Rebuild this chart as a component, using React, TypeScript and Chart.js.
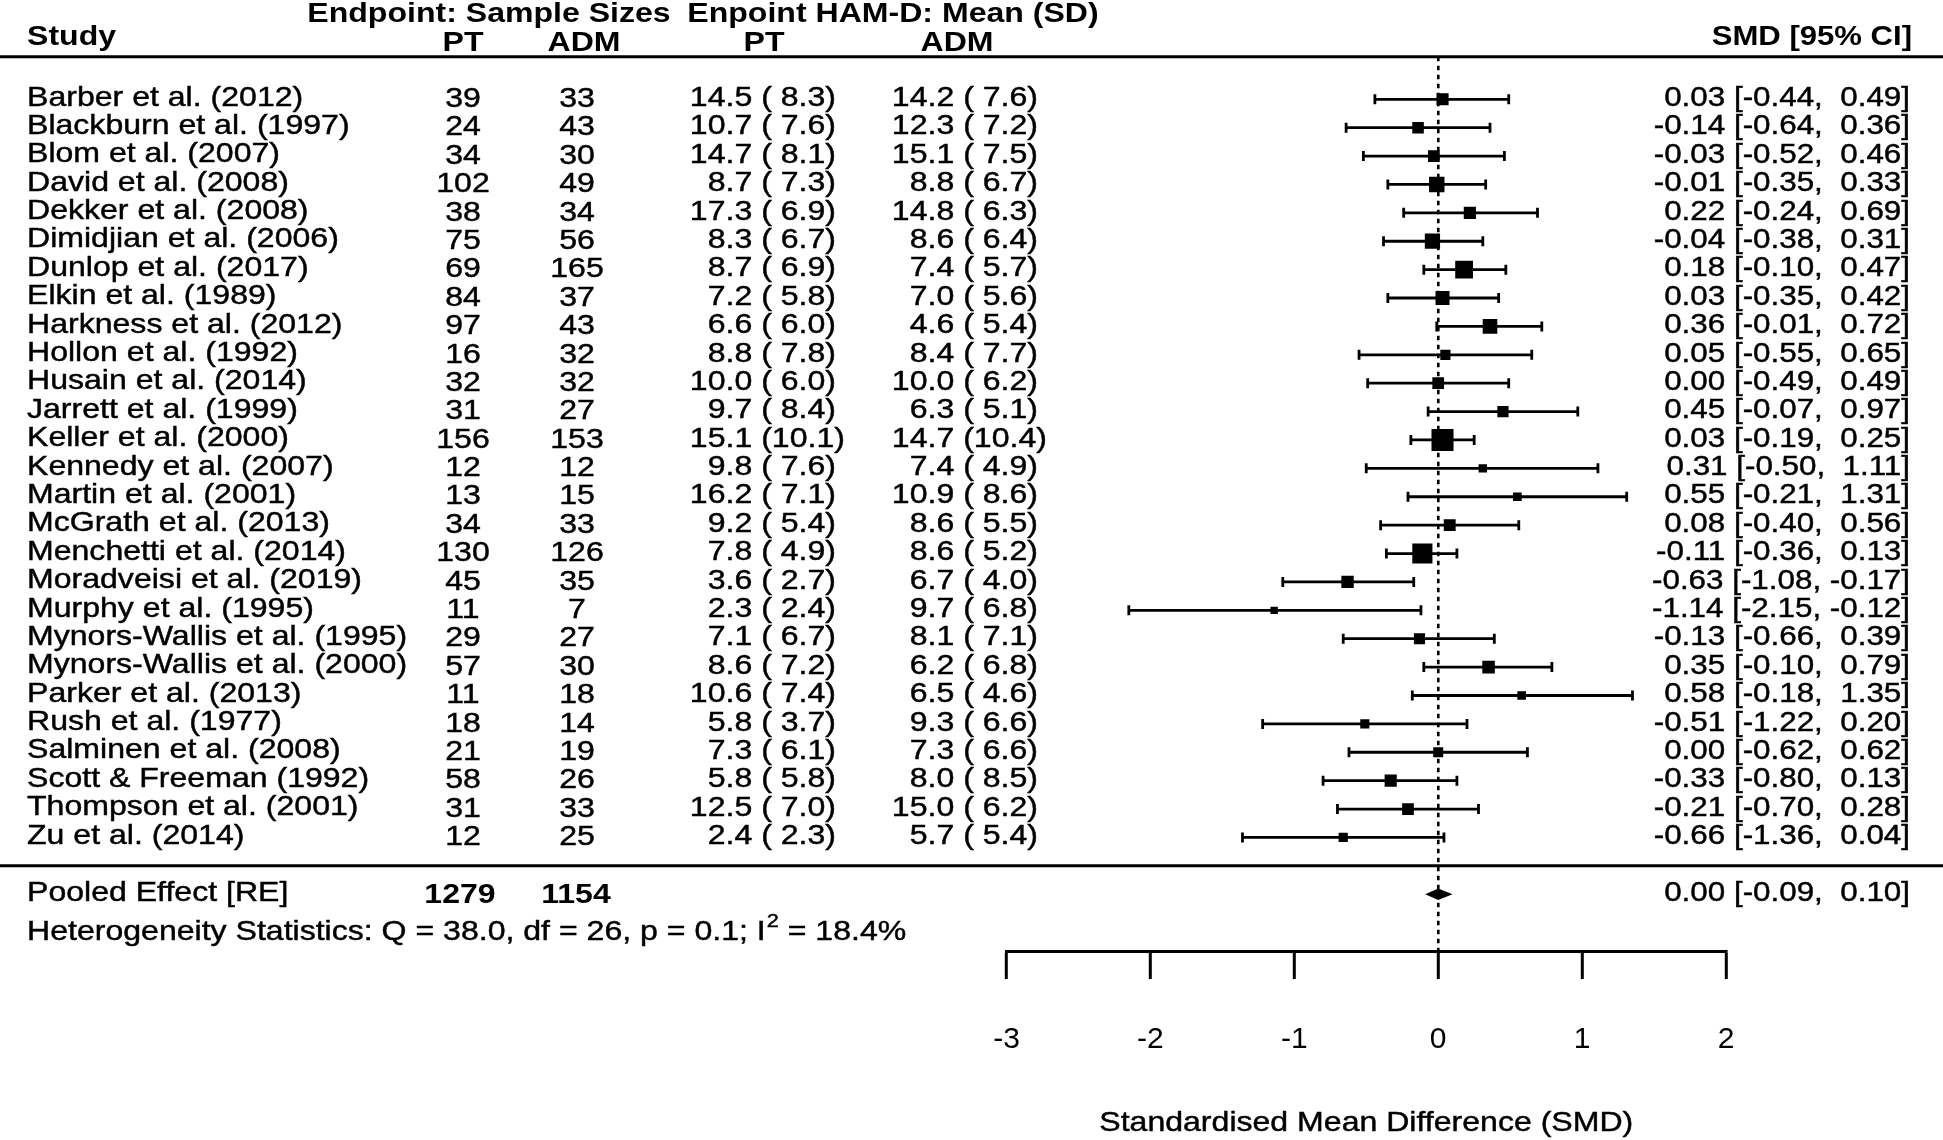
import React, { useEffect, useRef } from 'react';
import { Chart, registerables } from 'chart.js';

Chart.register(...registerables);

// ---------------- data ----------------
const studies = [
  'Barber et al. (2012)', 'Blackburn et al. (1997)', 'Blom et al. (2007)', 'David et al. (2008)',
  'Dekker et al. (2008)', 'Dimidjian et al. (2006)', 'Dunlop et al. (2017)', 'Elkin et al. (1989)',
  'Harkness et al. (2012)', 'Hollon et al. (1992)', 'Husain et al. (2014)', 'Jarrett et al. (1999)',
  'Keller et al. (2000)', 'Kennedy et al. (2007)', 'Martin et al. (2001)', 'McGrath et al. (2013)',
  'Menchetti et al. (2014)', 'Moradveisi et al. (2019)', 'Murphy et al. (1995)',
  'Mynors-Wallis et al. (1995)', 'Mynors-Wallis et al. (2000)', 'Parker et al. (2013)',
  'Rush et al. (1977)', 'Salminen et al. (2008)', 'Scott & Freeman (1992)',
  'Thompson et al. (2001)', 'Zu et al. (2014)',
];
const ptN = [39, 24, 34, 102, 38, 75, 69, 84, 97, 16, 32, 31, 156, 12, 13, 34, 130, 45, 11, 29, 57, 11, 18, 21, 58, 31, 12];
const admN = [33, 43, 30, 49, 34, 56, 165, 37, 43, 32, 32, 27, 153, 12, 15, 33, 126, 35, 7, 27, 30, 18, 14, 19, 26, 33, 25];
const ptMean = [14.5, 10.7, 14.7, 8.7, 17.3, 8.3, 8.7, 7.2, 6.6, 8.8, 10.0, 9.7, 15.1, 9.8, 16.2, 9.2, 7.8, 3.6, 2.3, 7.1, 8.6, 10.6, 5.8, 7.3, 5.8, 12.5, 2.4];
const ptSD = [8.3, 7.6, 8.1, 7.3, 6.9, 6.7, 6.9, 5.8, 6.0, 7.8, 6.0, 8.4, 10.1, 7.6, 7.1, 5.4, 4.9, 2.7, 2.4, 6.7, 7.2, 7.4, 3.7, 6.1, 5.8, 7.0, 2.3];
const admMean = [14.2, 12.3, 15.1, 8.8, 14.8, 8.6, 7.4, 7.0, 4.6, 8.4, 10.0, 6.3, 14.7, 7.4, 10.9, 8.6, 8.6, 6.7, 9.7, 8.1, 6.2, 6.5, 9.3, 7.3, 8.0, 15.0, 5.7];
const admSD = [7.6, 7.2, 7.5, 6.7, 6.3, 6.4, 5.7, 5.6, 5.4, 7.7, 6.2, 5.1, 10.4, 4.9, 8.6, 5.5, 5.2, 4.0, 6.8, 7.1, 6.8, 4.6, 6.6, 6.6, 8.5, 6.2, 5.4];
const smd = [0.03, -0.14, -0.03, -0.01, 0.22, -0.04, 0.18, 0.03, 0.36, 0.05, 0.00, 0.45, 0.03, 0.31, 0.55, 0.08, -0.11, -0.63, -1.14, -0.13, 0.35, 0.58, -0.51, 0.00, -0.33, -0.21, -0.66];
const lower = [-0.44, -0.64, -0.52, -0.35, -0.24, -0.38, -0.10, -0.35, -0.01, -0.55, -0.49, -0.07, -0.19, -0.50, -0.21, -0.40, -0.36, -1.08, -2.15, -0.66, -0.10, -0.18, -1.22, -0.62, -0.80, -0.70, -1.36];
const upper = [0.49, 0.36, 0.46, 0.33, 0.69, 0.31, 0.47, 0.42, 0.72, 0.65, 0.49, 0.97, 0.25, 1.11, 1.31, 0.56, 0.13, -0.17, -0.12, 0.39, 0.79, 1.35, 0.20, 0.62, 0.13, 0.28, 0.04];

const pooledLabel = 'Pooled Effect [RE]';
const pooledN = [1279, 1154];
const pooledEst = 0.00;
const pooledLower = -0.09;
const pooledUpper = 0.10;
const heterogeneityText = ['Heterogeneity Statistics: Q = 38.0, df = 26, p = 0.1; I', '2', ' = 18.4%'];

const xTicks = [-3, -2, -1, 0, 1, 2];
const xTitle = 'Standardised Mean Difference (SMD)';
const headerGroups = ['Endpoint: Sample Sizes', 'Enpoint HAM-D: Mean (SD)'];
const headerCols = ['Study', 'PT', 'ADM', 'PT', 'ADM', 'SMD [95% CI]'];

// ---------------- styling ----------------
const FAMILY = '"Liberation Sans", Arial, Helvetica, sans-serif';
const FS = 28;      // text size
const SX = 1.145;   // horizontal stretch of the text

function txt(
  ctx: CanvasRenderingContext2D, s: string, x: number, y: number,
  align: 'left' | 'right' | 'center' = 'left', bold = false, size = FS, sx = SX,
) {
  ctx.save();
  ctx.font = `${bold ? 'bold ' : ''}${size}px ${FAMILY}`;
  ctx.textBaseline = 'middle';
  ctx.textAlign = 'left';
  ctx.fillStyle = '#000';
  ctx.strokeStyle = '#000';
  ctx.lineWidth = 0.45;
  const w = ctx.measureText(s).width * sx;
  const x0 = align === 'left' ? x : align === 'right' ? x - w : x - w / 2;
  ctx.translate(x0, y);
  ctx.scale(sx, 1);
  ctx.fillText(s, 0, 0);
  if (!bold) ctx.strokeText(s, 0, 0);
  ctx.restore();
  return w;
}

function measure(ctx: CanvasRenderingContext2D, s: string, bold = false, size = FS) {
  ctx.save();
  ctx.font = `${bold ? 'bold ' : ''}${size}px ${FAMILY}`;
  const w = ctx.measureText(s).width * SX;
  ctx.restore();
  return w;
}

const f1 = (v: number) => v.toFixed(1);
const f2 = (v: number) => v.toFixed(2);
const pad2 = (v: number) => (v >= 0 ? ' ' : '') + f2(v);
const padSD = (v: number) => (v < 10 ? ' ' : '') + f1(v) + ')';
const ciText = (e: number, lo: number, up: number) => `${f2(e)} [${f2(lo)}, ${pad2(up)}]`;

const POOLED_ROW = 28;
const SEP_ROW = 27;

const forestPlugin = {
  id: 'forestTable',
  afterDatasetsDraw(chart: any) {
    const ctx: CanvasRenderingContext2D = chart.ctx;
    const xs = chart.scales.x;
    const ys = chart.scales.y;
    // pooled diamond
    const yc = ys.getPixelForValue(POOLED_ROW);
    const h = ys.getPixelForValue(POOLED_ROW + 0.2) - yc;
    ctx.save();
    ctx.fillStyle = '#000';
    ctx.beginPath();
    ctx.moveTo(xs.getPixelForValue(pooledLower), yc);
    ctx.lineTo(xs.getPixelForValue(pooledEst), yc - h);
    ctx.lineTo(xs.getPixelForValue(pooledUpper), yc);
    ctx.lineTo(xs.getPixelForValue(pooledEst), yc + h);
    ctx.closePath();
    ctx.fill();
    ctx.restore();
  },
  afterDraw(chart: any) {
    const ctx: CanvasRenderingContext2D = chart.ctx;
    const xs = chart.scales.x;
    const ys = chart.scales.y;
    const W = chart.width;

    // horizontal rules
    ctx.save();
    ctx.strokeStyle = '#000';
    ctx.lineWidth = 3;
    [chart.chartArea.top, ys.getPixelForValue(SEP_ROW)].forEach((yy: number) => {
      ctx.beginPath();
      ctx.moveTo(0, yy);
      ctx.lineTo(W, yy);
      ctx.stroke();
    });
    ctx.restore();

    // headers
    txt(ctx, headerGroups[0], 489, 14, 'center', true);
    txt(ctx, headerGroups[1], 893, 14, 'center', true);
    txt(ctx, headerCols[0], 27, 37, 'left', true);
    txt(ctx, headerCols[1], 463, 43, 'center', true);
    txt(ctx, headerCols[2], 584, 43, 'center', true);
    txt(ctx, headerCols[3], 764, 43, 'center', true);
    txt(ctx, headerCols[4], 957, 43, 'center', true);
    txt(ctx, headerCols[5], 1912, 37, 'right', true, FS, 1.11);

    const parenPT = 836 - measure(ctx, ' 8.3)');
    const parenADM = 1038 - measure(ctx, ' 7.6)');
    const ciRight = 1910;
    const SXCI = 1.12;

    studies.forEach((name, i) => {
      const y = ys.getPixelForValue(i);
      txt(ctx, name, 27, y - 1.5);
      txt(ctx, String(ptN[i]), 463, y, 'center');
      txt(ctx, String(admN[i]), 577, y, 'center');
      txt(ctx, f1(ptMean[i]) + ' (', parenPT, y - 1, 'right');
      txt(ctx, padSD(ptSD[i]), parenPT, y - 1, 'left');
      txt(ctx, f1(admMean[i]) + ' (', parenADM, y - 1, 'right');
      txt(ctx, padSD(admSD[i]), parenADM, y - 1, 'left');
      txt(ctx, ciText(smd[i], lower[i], upper[i]), ciRight, y - 1, 'right', false, FS, SXCI);
    });

    // pooled row
    const yp = ys.getPixelForValue(POOLED_ROW);
    txt(ctx, pooledLabel, 27, yp - 1);
    txt(ctx, String(pooledN[0]), 460, yp + 1, 'center', true);
    txt(ctx, String(pooledN[1]), 576, yp + 1, 'center', true);
    txt(ctx, ciText(pooledEst, pooledLower, pooledUpper), ciRight, yp - 1, 'right', false, FS, SXCI);

    // heterogeneity
    const yh = 932;
    let x = 27;
    x += txt(ctx, heterogeneityText[0], x, yh);
    x += txt(ctx, heterogeneityText[1], x + 1, yh - 10, 'left', false, 19) + 1;
    txt(ctx, heterogeneityText[2], x, yh);

    // axis title
    txt(ctx, xTitle, (xs.getPixelForValue(xTicks[0]) + xs.getPixelForValue(xTicks[xTicks.length - 1])) / 2, 1123, 'center');
  },
};

export default function App() {
  const ref = useRef<HTMLCanvasElement>(null);

  useEffect(() => {
    const canvas = ref.current;
    if (!canvas) return;

    // square size from study precision (1/SE), as in metafor's forest()
    const prec = lower.map((lo, i) => 3.92 / (upper[i] - lo));
    const pmin = Math.min(...prec);
    const pmax = Math.max(...prec);
    const side = prec.map((p) => 14.7 * (0.5 + (p - pmin) / (pmax - pmin)));

    const ciSets = studies.map((s, i) => ({
      type: 'scatter' as const,
      label: s,
      data: [{ x: lower[i], y: i }, { x: upper[i], y: i }],
      showLine: true,
      borderColor: '#000',
      borderWidth: 2.8,
      pointRadius: 0,
      order: 3,
    }));

    const caps = {
      type: 'scatter' as const,
      label: 'caps',
      data: studies.flatMap((_, i) => [{ x: lower[i], y: i }, { x: upper[i], y: i }]),
      pointStyle: 'line',
      pointRotation: 90,
      pointRadius: 5,
      pointBorderWidth: 2.8,
      pointBorderColor: '#000',
      order: 2,
    };

    const squares = {
      type: 'scatter' as const,
      label: 'SMD',
      data: smd.map((v, i) => ({ x: v, y: i })),
      pointStyle: 'rect',
      pointRadius: side.map((s) => s / Math.SQRT2),
      pointBackgroundColor: '#000',
      pointBorderWidth: 0,
      order: 1,
    };

    const chart = new Chart(canvas, {
      type: 'scatter',
      data: { datasets: [squares, caps, ...ciSets] as any },
      plugins: [forestPlugin],
      options: {
        animation: false,
        responsive: false,
        devicePixelRatio: 1,
        events: [],
        layout: { padding: { left: 1006.5, right: 217, top: 56.7, bottom: 0 } },
        plugins: { legend: { display: false }, tooltip: { enabled: false }, title: { display: false } },
        scales: {
          x: {
            type: 'linear',
            position: 'bottom',
            min: xTicks[0],
            max: xTicks[xTicks.length - 1],
            afterBuildTicks: (scale: any) => {
              scale.ticks = xTicks.map((v) => ({ value: v }));
            },
            afterFit: (scale: any) => {
              scale.height = 189;
            },
            ticks: {
              color: '#000',
              font: { family: FAMILY, size: 30, lineHeight: 1 },
              padding: 46,
              maxRotation: 0,
              autoSkip: false,
            },
            grid: {
              display: true,
              drawOnChartArea: true,
              drawTicks: true,
              color: (c: any) => (c.tick && c.tick.value === 0 ? '#000' : 'rgba(0,0,0,0)'),
              lineWidth: 2.6,
              tickColor: '#000',
              tickWidth: 3,
              tickLength: 28,
            },
            border: { display: true, color: '#000', width: 3, dash: [4.5, 4.5] },
            title: { display: false },
          },
          y: {
            type: 'linear',
            display: false,
            reverse: true,
            min: -1.5,
            max: 30,
          },
        },
      } as any,
    });

    return () => chart.destroy();
  }, []);

  return (
    <div style={{ position: 'absolute', left: 0, top: 0, width: 1943, height: 1140, background: '#fff' }}>
      <canvas ref={ref} width={1943} height={1140} style={{ display: 'block' }} />
    </div>
  );
}
